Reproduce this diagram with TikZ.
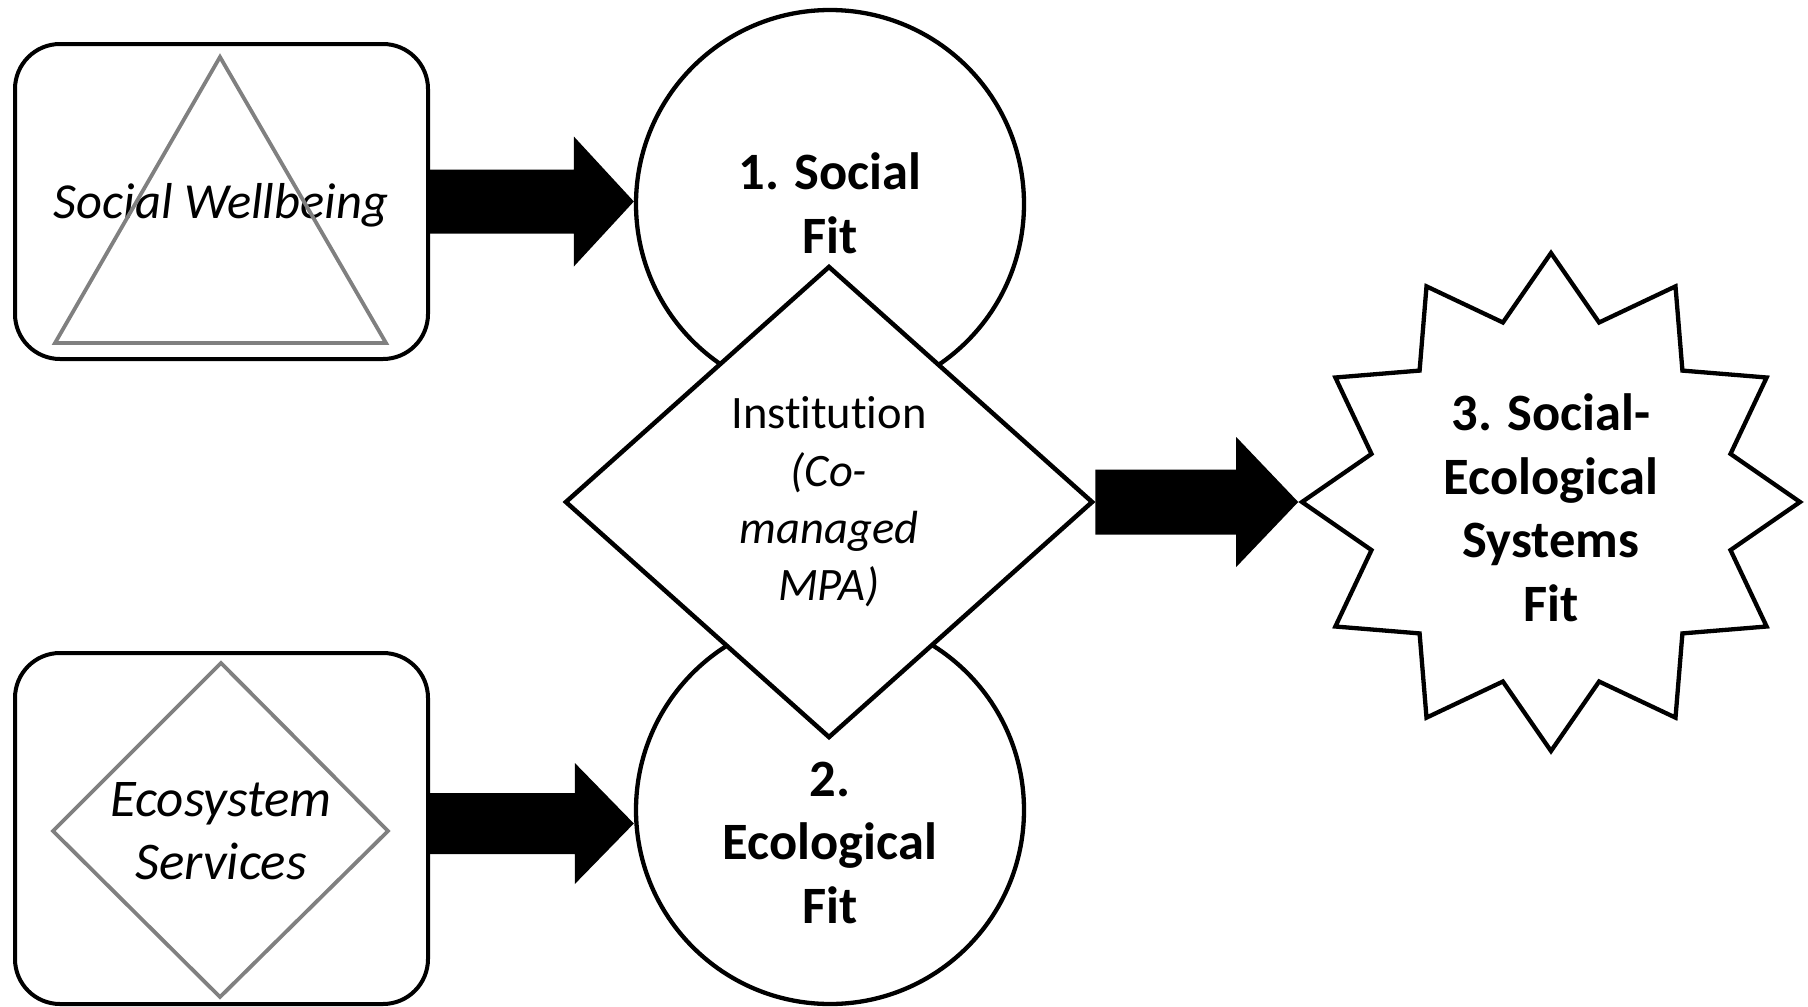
\documentclass[tikz,border=0pt]{standalone}
\usepackage{fontspec}
\setmainfont[Ligatures={NoCommon,NoContextual},RawFeature={-liga;-clig;-dlig}]{Carlito}
\usetikzlibrary{shapes.geometric,calc}
\definecolor{greyline}{RGB}{128,128,128}
\begin{document}
\begin{tikzpicture}[x=1pt,y=-1pt,
  rbox/.style={draw=black,line width=4pt,rounded corners=45pt,inner sep=0pt,minimum width=413pt},
  fitcircle/.style={circle,draw=black,line width=4.3pt,minimum size=388pt,inner sep=0pt},
  fitfont/.style={font=\fontsize{52.5}{63.5}\selectfont\bfseries,align=center,inner sep=0pt},
  greyshape/.style={draw=greyline,line width=3.8pt,line join=miter}]
\useasboundingbox (0,0) rectangle (1808,1007);

% boxes
\node[rbox,minimum height=315pt] (sw) at (221.5,201.5) {};
\node[rbox,minimum height=351pt] (es) at (221.5,828.5) {};

% circles
\node[fitcircle] (c1) at (830,204) {};
\node[fitcircle] (c2) at (830,810) {};

% institution diamond
\node[diamond,draw=black,fill=white,line width=4.5pt,minimum width=528pt,minimum height=472pt,inner sep=0pt] (inst) at (829,502) {};

% star
\node[star,star points=12,star point ratio=1.34,minimum size=498pt,draw=black,fill=white,line width=4.3pt,inner sep=0pt] (star) at (1551,502) {};

% block arrows
\fill[black] let \p1=(sw.east), \p2=(c1.west) in
  (\x1,\y1+32pt) -- (\x2-60pt,\y1+32pt) -- (\x2-60pt,\y1+65pt) -- (\x2,\y1)
  -- (\x2-60pt,\y1-65pt) -- (\x2-60pt,\y1-32pt) -- (\x1,\y1-32pt) -- cycle;
\fill[black] let \p1=([yshift=5pt]es.east), \p2=(c2.west) in
  (\x1,\y1+30.5pt) -- (\x2-59pt,\y1+30.5pt) -- (\x2-59pt,\y1+60.5pt) -- (\x2,\y1)
  -- (\x2-59pt,\y1-60.5pt) -- (\x2-59pt,\y1-30.5pt) -- (\x1,\y1-30.5pt) -- cycle;
\fill[black] let \p1=(inst.east), \p2=(star.west) in
  (\x1,\y1+32.5pt) -- (\x2-62pt,\y1+32.5pt) -- (\x2-62pt,\y1+65pt) -- (\x2,\y1)
  -- (\x2-62pt,\y1-65pt) -- (\x2-62pt,\y1-32.5pt) -- (\x1,\y1-32.5pt) -- cycle;

% texts
\node[fitfont] (t1) at (830,203.5) {1. Social\\Fit};
\node[fitfont] (t2) at (830,842.5) {2.\\Ecological\\Fit};
\node[fitfont] (t3) at (1551,508) {3. Social-\\Ecological\\Systems\\Fit};
\node[font=\fontsize{46.5}{57.3}\selectfont,align=center,inner sep=0pt] (t4) at (829,502) {Institution\\\textit{(Co-}\\\textit{managed}\\\textit{MPA)}};
\node[font=\fontsize{50.5}{60}\selectfont\itshape,anchor=base,inner sep=0pt] (t5) at (221,218) {Social Wellbeing};
\node[font=\fontsize{53}{63}\selectfont\itshape,align=center,inner sep=0pt] (t6) at (221,831) {Ecosystem\\Services};

% grey shapes
\draw[greyshape] (220,57) -- (386,343) -- (55,343) -- cycle;
\draw[greyshape] (221,663) -- (388,831) -- (220,997) -- (53,831) -- cycle;
\end{tikzpicture}
\end{document}
